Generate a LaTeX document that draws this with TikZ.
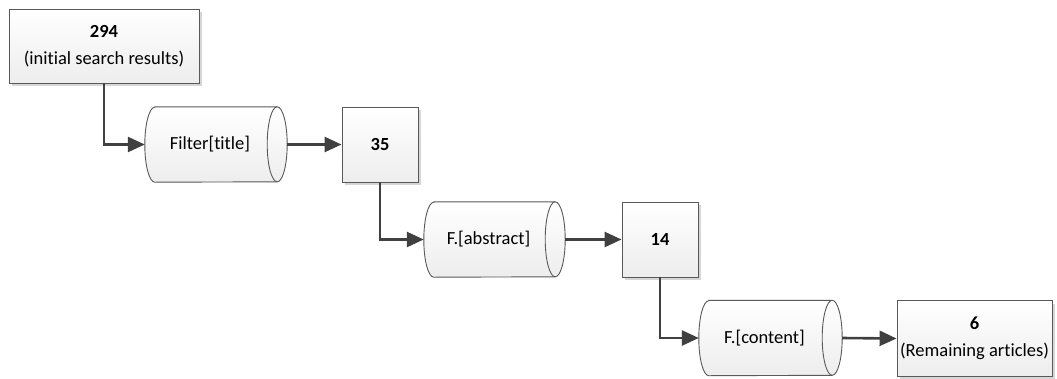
\documentclass[tikz,border=0pt]{standalone}
\usepackage{fontspec}
\setmainfont[Ligatures={NoCommon}]{Carlito}
\usetikzlibrary{arrows.meta,shadows,backgrounds}
\definecolor{edgec}{HTML}{595959}
\definecolor{linec}{HTML}{404040}
\definecolor{shadc}{HTML}{D6D6D6}
\tikzset{
  txt/.style={font=\fontsize{18.5}{27}\selectfont, align=center, inner sep=0pt},
  box/.style={txt, rectangle, draw=edgec, line width=0.9pt, top color=white, bottom color=black!7,
    drop shadow={shadow xshift=3pt, shadow yshift=-3pt, fill=shadc, opacity=1}},
  cylnode/.style={txt, rectangle, draw=none, execute at begin node={\hspace*{-12pt}}},
  cylpath/.style={draw=edgec, line width=0.9pt, top color=white, bottom color=black!7},
  arr/.style={draw=linec, line width=2.6pt, -{Triangle[length=17pt,width=15pt]}}
}
\newcommand\cylbody[1]{%
  ([xshift=10pt]#1.north west) -- ([xshift=-10pt]#1.north east)
  arc[start angle=90, end angle=-90, x radius=10pt, y radius=37.5pt]
  -- ([xshift=10pt]#1.south west)
  arc[start angle=270, end angle=90, x radius=10pt, y radius=37.5pt] -- cycle}
\newcommand\drawcyl[1]{%
  \fill[shadc, shift={(3pt,-3pt)}] \cylbody{#1};
  \path[cylpath] \cylbody{#1};
  \draw[edgec, line width=0.9pt] ([xshift=-10pt]#1.north east)
    arc[start angle=90, end angle=270, x radius=10pt, y radius=37.5pt];}
\begin{document}
\begin{tikzpicture}[x=1pt, y=-1pt]
  \useasboundingbox (0,0) rectangle (1057,378);
  \node[box, minimum width=190pt, minimum height=74pt] (b1) at (104,46) {\textbf{294}\\(initial search results)};
  \node[cylnode, minimum width=142pt, minimum height=75pt] (c1) at (216,144.5) {Filter[title]};
  \node[box, minimum width=76pt, minimum height=75pt] (b2) at (380,144.5) {\textbf{35}};
  \node[cylnode, minimum width=141pt, minimum height=75pt] (c2) at (494.5,239.5) {F.[abstract]};
  \node[box, minimum width=76pt, minimum height=75pt] (b3) at (660,239.5) {\textbf{14}};
  \node[cylnode, minimum width=143pt, minimum height=75pt] (c3) at (770.5,338) {F.[content]};
  \node[box, minimum width=155pt, minimum height=76pt] (b4) at (974.5,338.5) {\textbf{6}\\(Remaining articles)};
  \begin{scope}[on background layer]
    \drawcyl{c1}
    \drawcyl{c2}
    \drawcyl{c3}
  \end{scope}
  \draw[arr] (b1.south) |- (c1.west);
  \draw[arr] (c1.east) -- (b2.west);
  \draw[arr] (b2.south) |- (c2.west);
  \draw[arr] (c2.east) -- (b3.west);
  \draw[arr] (b3.south) |- (c3.west);
  \draw[arr] (c3.east) -- (b4.west);
\end{tikzpicture}
\end{document}
